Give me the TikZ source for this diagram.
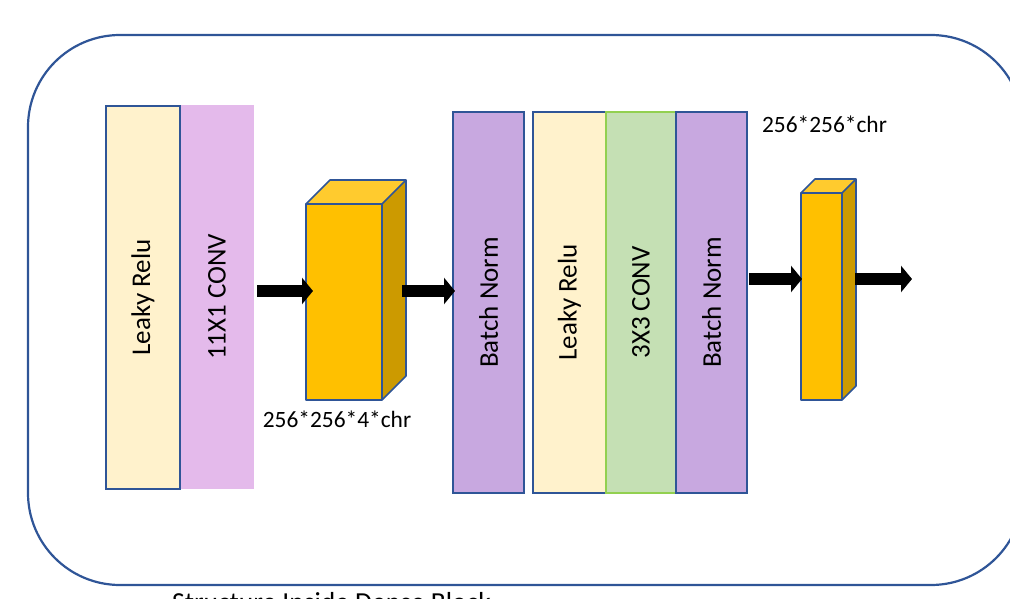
\documentclass[tikz,border=0pt]{standalone}
\usepackage{fontspec}
\setmainfont{Carlito}
\usetikzlibrary{arrows.meta,calc}

\definecolor{edgeblue}{HTML}{2F5597}
\definecolor{cream}{HTML}{FFF2CC}
\definecolor{orchid}{HTML}{E4BAEB}
\definecolor{lavender}{HTML}{C8A8E0}
\definecolor{sage}{HTML}{C5E0B4}
\definecolor{leaf}{HTML}{92D050}
\definecolor{amberfront}{HTML}{FFC000}
\definecolor{ambertop}{HTML}{FFCB2E}
\definecolor{amberside}{HTML}{CC9A00}

\tikzset{
  layer/.style={inner sep=0pt, outer sep=0pt, line width=1.6pt},
  layertext/.style={rotate=90, font=\fontsize{27}{31}\selectfont, inner sep=0pt},
  sizetext/.style={font=\fontsize{23.4}{28}\selectfont, inner sep=0pt, anchor=base},
  blockarrow/.style={line width=12pt, black,
    -{Triangle[length=11pt 0, width=26pt 0]}},
  cubeedge/.style={draw=edgeblue, line width=1.6pt, line join=round}
}

\begin{document}
\begin{tikzpicture}[x=1pt, y=-1pt]
\useasboundingbox (0,0) rectangle (1010,599);
\clip (0,0) rectangle (1010,599);

% frame of the dense block
\draw[edgeblue, line width=2.2pt, rounded corners=92pt] (28,35) rectangle (1023,585);

% first pair of layers
\node[layer, fill=orchid, minimum width=74pt, minimum height=384pt] (conv1) at (217,297) {};
\node[layer, draw=edgeblue, fill=cream, minimum width=74pt, minimum height=383pt] (relu1) at (143,297.5) {};
\node[layertext] at (relu1.center) {Leaky Relu};
\node[layertext] at (conv1.center) {11X1 CONV};

% first feature cube
\node[layer, fill=amberfront, minimum width=76pt, minimum height=196pt] (cube1) at (344,302) {};
\fill[ambertop] (cube1.north west) -- ++(24,-24) -- ++(76,0) -- (cube1.north east) -- cycle;
\fill[amberside] (cube1.north east) -- ++(24,-24) -- ++(0,196) -- (cube1.south east) -- cycle;
\draw[cubeedge] (cube1.north west) -- ++(24,-24) -- ++(76,0) -- ++(0,196) -- (cube1.south east);
\draw[cubeedge] (cube1.north east) -- ++(24,-24);
\draw[cubeedge] (cube1.south west) rectangle (cube1.north east);
\node[sizetext] (size1) at (337,427) {256*256*4*chr};

% second group of layers
\node[layer, draw=edgeblue, fill=lavender, minimum width=71pt, minimum height=381pt] (bn1) at (488.5,302.5) {};
\node[layer, draw=edgeblue, fill=cream, minimum width=73pt, minimum height=381pt] (relu2) at (569.5,302.5) {};
\node[layer, draw=leaf, fill=sage, minimum width=70pt, minimum height=381pt] (conv2) at (641,302.5) {};
\node[layer, draw=edgeblue, fill=lavender, minimum width=71pt, minimum height=381pt] (bn2) at (711.5,302.5) {};
\node[layertext] at (bn1.center) {Batch Norm};
\node[layertext] at (relu2.center) {Leaky Relu};
\node[layertext] at (conv2.center) {3X3 CONV};
\node[layertext] at (bn2.center) {Batch Norm};

% output feature cube
\node[layer, fill=amberfront, minimum width=41pt, minimum height=207pt] (cube2) at (821.5,296.5) {};
\fill[ambertop] (cube2.north west) -- ++(14,-14) -- ++(41,0) -- (cube2.north east) -- cycle;
\fill[amberside] (cube2.north east) -- ++(14,-14) -- ++(0,207) -- (cube2.south east) -- cycle;
\draw[cubeedge] (cube2.north west) -- ++(14,-14) -- ++(41,0) -- ++(0,207) -- (cube2.south east);
\draw[cubeedge] (cube2.north east) -- ++(14,-14);
\draw[cubeedge] (cube2.south west) rectangle (cube2.north east);
\node[sizetext] (size2) at (824.5,133) {256*256*chr};

% data flow
\coordinate (in1) at (257,291);
\coordinate (out1) at (402,291);
\coordinate (in2) at (749,279);
\coordinate (out2) at (855,279);
\coordinate (end) at (912,279);
\draw[blockarrow, shorten >=-7pt] (in1) -- (cube1.west |- in1);
\draw[blockarrow, shorten >=-2pt] (out1) -- (bn1.west |- out1);
\draw[blockarrow, shorten >=-1pt] (in2) -- (cube2.west |- in2);
\draw[blockarrow] (out2) -- (end);

% caption
\node[font=\fontsize{27.5}{32}\selectfont, inner sep=0pt, anchor=base west] (caption) at (172,611) {Structure Inside Dense Block};
\end{tikzpicture}
\end{document}
